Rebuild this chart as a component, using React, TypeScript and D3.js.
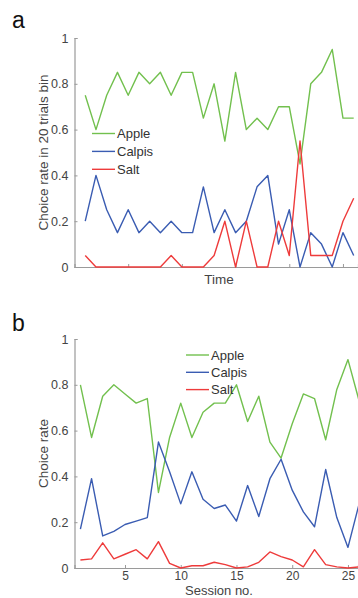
import { useEffect, useRef } from "react";
import * as d3 from "d3";

// panel a: 20-trial bins
const bins = [1, 2, 3, 4, 5, 6, 7, 8, 9, 10, 11, 12, 13, 14, 15, 16, 17, 18, 19, 20, 21, 22, 23, 24, 25, 26];
const binApple = [0.75, 0.6, 0.75, 0.85, 0.75, 0.85, 0.8, 0.85, 0.75, 0.85, 0.85, 0.65, 0.8, 0.55, 0.85, 0.6, 0.65, 0.6, 0.7, 0.7, 0.45, 0.8, 0.85, 0.95, 0.65, 0.65];
const binCalpis = [0.2, 0.4, 0.25, 0.15, 0.25, 0.15, 0.2, 0.15, 0.2, 0.15, 0.15, 0.35, 0.15, 0.25, 0.15, 0.2, 0.35, 0.4, 0.1, 0.25, 0, 0.15, 0.1, 0, 0.15, 0.05];
const binSalt = [0.05, 0, 0, 0, 0, 0, 0, 0, 0.05, 0, 0, 0, 0.05, 0.2, 0, 0.2, 0, 0, 0.2, 0.05, 0.55, 0.05, 0.05, 0.05, 0.2, 0.3];

// panel b: sessions
const sessions = [1, 2, 3, 4, 5, 6, 7, 8, 9, 10, 11, 12, 13, 14, 15, 16, 17, 18, 19, 20, 21, 22, 23, 24, 25, 26];
const sesApple = [0.8, 0.57, 0.75, 0.8, 0.76, 0.72, 0.74, 0.33, 0.57, 0.72, 0.57, 0.68, 0.72, 0.72, 0.8, 0.64, 0.75, 0.55, 0.48, 0.63, 0.76, 0.74, 0.56, 0.78, 0.91, 0.73];
const sesCalpis = [0.17, 0.39, 0.14, 0.16, 0.19, 0.205, 0.22, 0.55, 0.42, 0.28, 0.42, 0.3, 0.26, 0.275, 0.205, 0.36, 0.225, 0.39, 0.475, 0.34, 0.245, 0.18, 0.43, 0.22, 0.09, 0.28];
const sesSalt = [0.035, 0.04, 0.11, 0.04, 0.06, 0.08, 0.04, 0.115, 0.02, 0, 0.01, 0.01, 0.025, 0.015, 0, 0.005, 0.025, 0.07, 0.05, 0.035, 0.005, 0.08, 0.015, 0.005, 0, 0.005];

const names = ["Apple", "Calpis", "Salt"];
const colors = ["#72c04e", "#3a5cb2", "#ee3b3b"];
const yTicks = [0, 0.2, 0.4, 0.6, 0.8, 1];
const xTicks = [5, 10, 15, 20, 25];

const FONT = "'Liberation Sans', Arial, sans-serif";

export default function App() {
  const ref = useRef<SVGSVGElement>(null);

  useEffect(() => {
    const svg = d3.select(ref.current);
    svg.selectAll("*").remove();

    const panel = (opts: any) => {
      const { xs, series, x, y, showXLabels, xLabel, yLabel, letter, letterY, legend } = opts;
      const g = svg.append("g");

      // y axis
      g.append("g").attr("transform", `translate(${x.range()[0]},0)`)
        .call(d3.axisRight(y).tickValues(yTicks).tickSize(3).tickFormat(() => ""))
        .call(ax => ax.select(".domain").attr("stroke", "#9a9a9a").attr("stroke-width", 1.2))
        .call(ax => ax.selectAll("line").attr("stroke", "#9a9a9a"));
      g.append("g").attr("transform", `translate(${x.range()[0] - 3},0)`)
        .call(d3.axisLeft(y).tickValues(yTicks).tickSize(0).tickFormat(d => String(d)))
        .call(ax => ax.select(".domain").remove())
        .call(ax => ax.selectAll("text").attr("fill", "#444").attr("font-size", "12.5px").attr("font-family", FONT));

      // x axis
      g.append("g").attr("transform", `translate(0,${y.range()[0]})`)
        .call(d3.axisTop(x).tickValues(xTicks).tickSize(3).tickFormat(() => ""))
        .call(ax => ax.select(".domain").attr("stroke", "#9a9a9a").attr("stroke-width", 1.2))
        .call(ax => ax.selectAll("line").attr("stroke", "#9a9a9a"));
      if (showXLabels) {
        g.append("g").attr("transform", `translate(0,${y.range()[0] + 0.5})`)
          .call(d3.axisBottom(x).tickValues(xTicks).tickSize(0).tickFormat(d => String(d)))
          .call(ax => ax.select(".domain").remove())
          .call(ax => ax.selectAll("text").attr("fill", "#444").attr("font-size", "12px").attr("font-family", FONT));
      }

      // lines
      series.forEach((vals: number[], i: number) => {
        const line = d3.line<number>().x((_, j) => x(xs[j])).y(v => y(v));
        g.append("path").datum(vals)
          .attr("fill", "none").attr("stroke", colors[i]).attr("stroke-width", 1.4)
          .attr("stroke-linejoin", "round").attr("d", line);
      });

      // legend
      names.forEach((n, i) => {
        const ly = legend.y + i * legend.step;
        g.append("line").attr("x1", legend.x).attr("x2", legend.x + 23)
          .attr("y1", ly).attr("y2", ly).attr("stroke", colors[i]).attr("stroke-width", 1.4);
        g.append("text").attr("x", legend.x + 25).attr("y", ly + 4.5)
          .attr("font-size", "13px").attr("font-family", FONT).attr("fill", "#333").text(n);
      });

      // labels
      const yMid = (y.range()[0] + y.range()[1]) / 2;
      g.append("text").attr("transform", `translate(48,${yMid}) rotate(-90)`)
        .attr("text-anchor", "middle").attr("font-size", "13.5px").attr("font-family", FONT)
        .attr("fill", "#444").text(yLabel);
      g.append("text").attr("x", 219).attr("y", xLabel.y)
        .attr("text-anchor", "middle").attr("font-size", xLabel.size).attr("font-family", FONT)
        .attr("fill", "#444").text(xLabel.text);
      g.append("text").attr("x", 12).attr("y", letterY)
        .attr("font-size", "23px").attr("font-family", FONT).attr("fill", "#111").text(letter);
    };

    const xA = d3.scaleLinear().domain([0, 26.4]).range([74.5, 358]);
    const yA = d3.scaleLinear().domain([0, 1]).range([267, 38]);
    panel({
      xs: bins, series: [binApple, binCalpis, binSalt], x: xA, y: yA,
      showXLabels: false, xLabel: { text: "Time", y: 284, size: "13.5px" },
      yLabel: "Choice rate in 20 trials bin", letter: "a", letterY: 28,
      legend: { x: 92, y: 133.5, step: 17.9 },
    });

    const xB = d3.scaleLinear().domain([0.47, 25.9]).range([74.5, 358]);
    const yB = d3.scaleLinear().domain([0, 1]).range([568, 339]);
    panel({
      xs: sessions, series: [sesApple, sesCalpis, sesSalt], x: xB, y: yB,
      showXLabels: true, xLabel: { text: "Session no.", y: 595.2, size: "13px" },
      yLabel: "Choice rate", letter: "b", letterY: 331,
      legend: { x: 186, y: 355, step: 17.3 },
    });
  }, []);

  return (
    <>
      <style>{`body{margin:0;background:#fff}`}</style>
      <svg ref={ref} width={358} height={598} style={{ display: "block" }} />
    </>
  );
}
